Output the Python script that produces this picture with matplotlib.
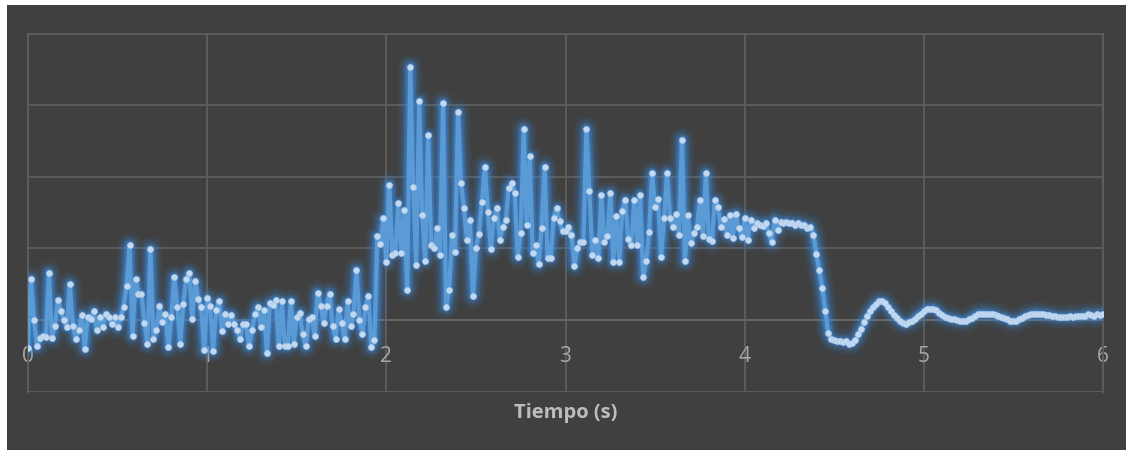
import numpy as np
import matplotlib
matplotlib.use("Agg")
import matplotlib.pyplot as plt
from matplotlib.patches import Rectangle

# Signal sampled at 60 Hz, one list per second of recording
SAMPLE_RATE = 60
seg_0_1 = [-0.39, 0.57, 0.0, -0.37, -0.25, -0.22, -0.24, 0.66, -0.25, -0.09,
           0.28, 0.13, 0.0, -0.1, 0.5, -0.09, -0.26, -0.14, 0.07, -0.4,
           0.04, 0.02, 0.12, -0.14, 0.04, -0.1, 0.08, 0.04, -0.05, 0.04,
           -0.1, 0.04, 0.18, 0.47, 1.05, -0.22, 0.57, 0.37, 0.37, -0.04,
           -0.33, 0.99, -0.26, -0.14, 0.2, -0.03, 0.08, -0.38, 0.04, 0.6,
           0.18, -0.33, 0.23, 0.57, 0.65, 0.02, 0.54, 0.29, 0.18, -0.42]
seg_1_2 = [0.31, 0.19, -0.43, 0.14, 0.26, -0.16, 0.09, -0.06, 0.07, -0.05,
           -0.14, -0.26, -0.06, -0.06, -0.37, -0.14, 0.08, 0.18, -0.1, 0.14,
           -0.46, 0.24, 0.21, 0.28, -0.37, 0.26, -0.37, -0.37, 0.26, -0.33,
           0.04, 0.1, -0.2, -0.37, 0.01, 0.04, -0.22, 0.38, 0.2, -0.04,
           0.2, 0.37, -0.09, -0.26, 0.15, -0.04, -0.27, 0.26, -0.09, 0.08,
           0.7, 0.0, -0.2, 0.18, 0.33, -0.38, -0.28, 1.17, 1.06, 1.42]
seg_2_3 = [0.81, 1.89, 0.91, 0.94, 1.63, 0.94, 1.54, 0.42, 3.54, 1.86,
           0.77, 3.06, 1.46, 0.83, 2.58, 1.05, 1.0, 1.28, 0.91, 3.03,
           0.18, 0.42, 1.19, 0.95, 2.9, 1.91, 1.56, 1.12, 1.4, 0.33,
           1.01, 1.2, 1.65, 2.14, 1.51, 0.99, 1.42, 1.57, 1.12, 1.3,
           1.39, 1.85, 1.91, 1.77, 0.88, 1.22, 2.67, 1.33, 2.29, 0.94,
           1.05, 0.78, 1.29, 2.14, 0.86, 0.86, 1.42, 1.56, 1.38, 1.24]
seg_3_4 = [1.24, 1.3, 1.19, 0.76, 1.0, 1.09, 1.09, 2.67, 1.8, 0.91,
           1.12, 0.86, 1.75, 1.09, 1.17, 1.77, 0.81, 1.45, 0.81, 1.52,
           1.68, 1.13, 1.05, 1.67, 1.05, 1.75, 0.6, 0.82, 1.23, 2.05,
           1.58, 1.69, 0.88, 1.42, 2.05, 1.42, 1.3, 1.48, 1.19, 2.52,
           0.82, 1.46, 1.07, 1.22, 1.3, 1.67, 1.17, 2.05, 1.13, 1.1,
           1.67, 1.58, 1.3, 1.41, 1.19, 1.46, 1.15, 1.48, 1.28, 1.16]
seg_4_5 = [1.42, 1.12, 1.4, 1.28, 1.36, 1.33, 1.31, 1.36, 1.22, 1.09,
           1.4, 1.26, 1.37, 1.36, 1.37, 1.35, 1.36, 1.33, 1.35, 1.32,
           1.33, 1.28, 1.3, 1.19, 0.92, 0.7, 0.45, 0.12, -0.18, -0.26,
           -0.28, -0.3, -0.3, -0.31, -0.3, -0.33, -0.32, -0.28, -0.2, -0.12,
           -0.03, 0.05, 0.12, 0.18, 0.22, 0.26, 0.26, 0.24, 0.18, 0.13,
           0.07, 0.03, -0.02, -0.04, -0.05, -0.03, -0.01, 0.02, 0.06, 0.09]
seg_5_6 = [0.12, 0.15, 0.16, 0.16, 0.14, 0.1, 0.07, 0.04, 0.03, 0.02,
           0.01, 0.0, -0.01, -0.01, -0.01, 0.01, 0.03, 0.06, 0.08, 0.09,
           0.09, 0.09, 0.08, 0.08, 0.07, 0.05, 0.04, 0.03, 0.01, -0.01,
           -0.01, -0.01, 0.01, 0.03, 0.05, 0.07, 0.08, 0.09, 0.09, 0.08,
           0.08, 0.07, 0.07, 0.06, 0.05, 0.04, 0.04, 0.04, 0.04, 0.05,
           0.04, 0.05, 0.05, 0.05, 0.06, 0.08, 0.07, 0.05, 0.08, 0.07,
           0.08]

x_ticks = [0, 1, 2, 3, 4, 5, 6]
x_tick_labels = ["0", "1", "2", "3", "4", "5", "6"]
x_title = "Tiempo (s)"

signal = np.array(seg_0_1 + seg_1_2 + seg_2_3 + seg_3_4 + seg_4_5 + seg_5_6)
time = np.arange(len(signal)) / SAMPLE_RATE

W, H = 1126, 450
fig = plt.figure(figsize=(W / 100, H / 100), dpi=100, facecolor="white")

# dark chart panel
fig.patches.append(Rectangle((7 / W, 0), (W - 7) / W, (H - 5) / H,
                             transform=fig.transFigure, facecolor="#404040",
                             edgecolor="none", zorder=-10))

left, right = 28, 1103
top, bottom = 33.6, 391.6
ax = fig.add_axes([left / W, 1 - bottom / H, (right - left) / W, (bottom - top) / H])
ax.set_zorder(5)
ax.set_facecolor("none")
ax.set_xlim(0, 6)
ax.set_ylim(-1, 4)

grid_color = "#5e5e5e"
ax.set_yticks(range(-1, 5))
ax.set_yticklabels([])
ax.set_xticks(x_ticks)
ax.set_xticklabels(x_tick_labels)
ax.grid(True, color=grid_color, linewidth=1.3, zorder=1)
ax.set_axisbelow(True)
for side in ("left", "right", "top"):
    ax.spines[side].set_color(grid_color)
    ax.spines[side].set_linewidth(1.3)
ax.spines["bottom"].set_position(("data", 0))
ax.spines["bottom"].set_color("#686868")
ax.spines["bottom"].set_linewidth(1.3)
ax.tick_params(axis="both", length=0)
ax.tick_params(axis="x", colors="#a8a8a8", labelsize=15, pad=19)
for lbl in ax.get_xticklabels():
    lbl.set_family("Open Sans")

ax.set_xlabel(x_title, fontsize=14.5, fontweight="bold", color="#bdbdbd",
              family="Open Sans", va="center")
ax.xaxis.set_label_coords(0.5, (bottom - 413) / (bottom - top))

# soft glow behind the series
glow = "#3d8fe8"
for lw, a in [(18, 0.05), (15, 0.07), (12, 0.10), (9.5, 0.15), (7.5, 0.22), (5.5, 0.38)]:
    ax.plot(time, signal, color=glow, linewidth=lw, alpha=a,
            solid_joinstyle="round", solid_capstyle="round", zorder=3)

ax.plot(time, signal, color="#5b9bd5", linewidth=3.0,
        solid_joinstyle="round", zorder=4,
        marker="o", markersize=4.4, markerfacecolor="#c3d9f0",
        markeredgecolor="#a6c6ea", markeredgewidth=0.4)

fig.savefig("out.png", dpi=100, facecolor="white")
